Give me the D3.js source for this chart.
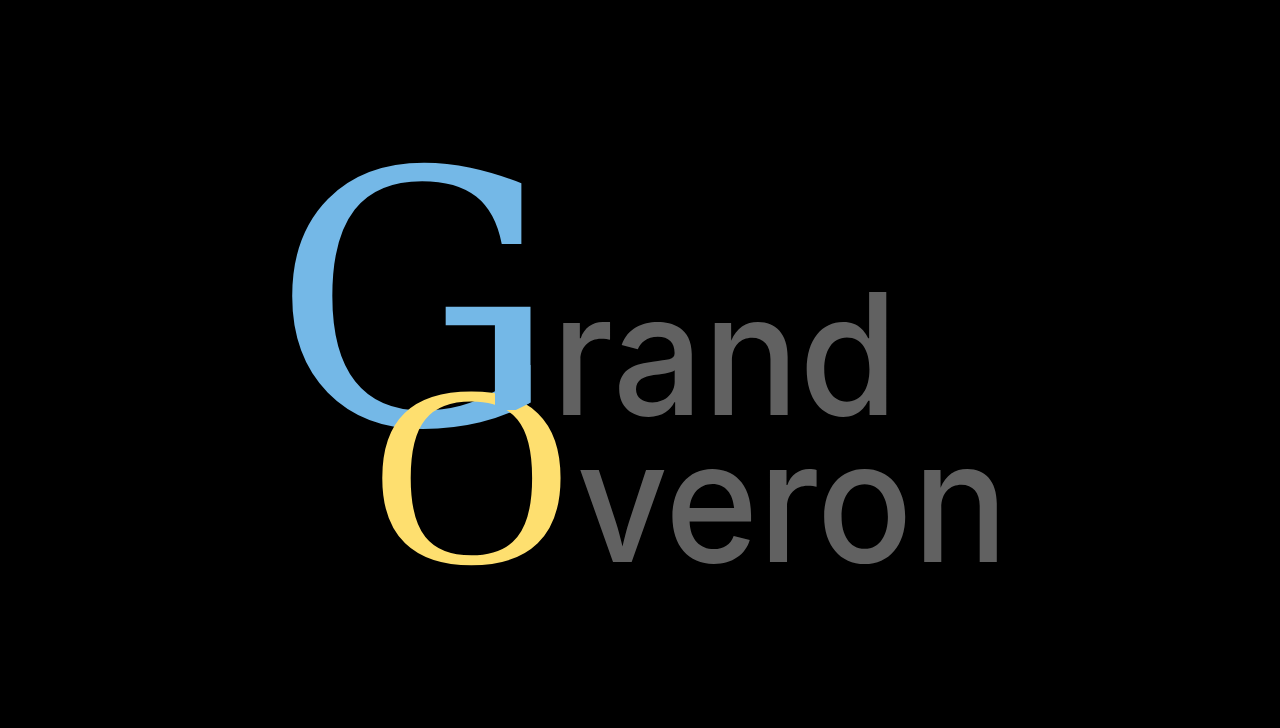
<!DOCTYPE html>
<html>
<head>
<meta charset="utf-8">
<script src="https://cdn.jsdelivr.net/npm/d3@7"></script>
<style>
  body { margin: 0; background: #000; }
  svg { display: block; }
</style>
</head>
<body>
<div id="chart"></div>
<script>
// ---------------------------//
//       LOGO PIECES          //
// ---------------------------//

// glyphs and their ink boxes [left, top, right, baseline]
const glyphs = ["G", "O", "rand", "veron"];
const fonts = ["DejaVu Serif", "Liberation Serif", "Inter", "Inter"];
const weights = [400, 400, 500, 500];
const boxes = [
  [290, 160, 534, 424],
  [382, 392, 563, 568],
  [563, 292, 887, 415],
  [580, 468, 997, 562]
];
const colors = ["#74b8e7", "#fedf6f", "#616161", "#616161"];
// drawing order: G, O, words; then the G stem again over the O
const order = [0, 1, 3, 2];
const overlap = [495, 365, 545, 410];

const width = 1280, height = 728;

const svg = d3.select("#chart")
    .append("svg")
    .attr("width", width)
    .attr("height", height)
    .style("background", "#000");

const ctx = document.createElement("canvas").getContext("2d");

// fit a glyph's ink box onto its target box
function placement(i) {
    ctx.font = `${weights[i]} 100px "${fonts[i]}"`;
    const m = ctx.measureText(glyphs[i]);
    const [x0, y0, x1, y1] = boxes[i];
    const inkW = m.actualBoundingBoxLeft + m.actualBoundingBoxRight;
    const inkH = glyphs[i] === "O" ? m.actualBoundingBoxAscent + m.actualBoundingBoxDescent
                                   : m.actualBoundingBoxAscent;
    const sx = (x1 - x0) / inkW, sy = (y1 - y0) / inkH;
    const tx = x0 + m.actualBoundingBoxLeft * sx;
    const ty = y0 + m.actualBoundingBoxAscent * sy;
    return `translate(${tx},${ty}) scale(${sx},${sy})`;
}

function drawGlyph(g, i) {
    g.append("text")
        .attr("transform", placement(i))
        .attr("font-family", `"${fonts[i]}"`)
        .attr("font-weight", weights[i])
        .attr("font-size", 100)
        .attr("fill", colors[i])
        .text(glyphs[i]);
}

svg.append("defs").append("clipPath")
    .attr("id", "stem")
    .append("rect")
    .attr("x", overlap[0])
    .attr("y", overlap[1])
    .attr("width", overlap[2] - overlap[0])
    .attr("height", overlap[3] - overlap[1]);

document.fonts.ready.then(() => {
    const logo = svg.append("g");
    order.forEach(i => drawGlyph(logo, i));
    drawGlyph(logo.append("g").attr("clip-path", "url(#stem)"), 0);
});
</script>
</body>
</html>
